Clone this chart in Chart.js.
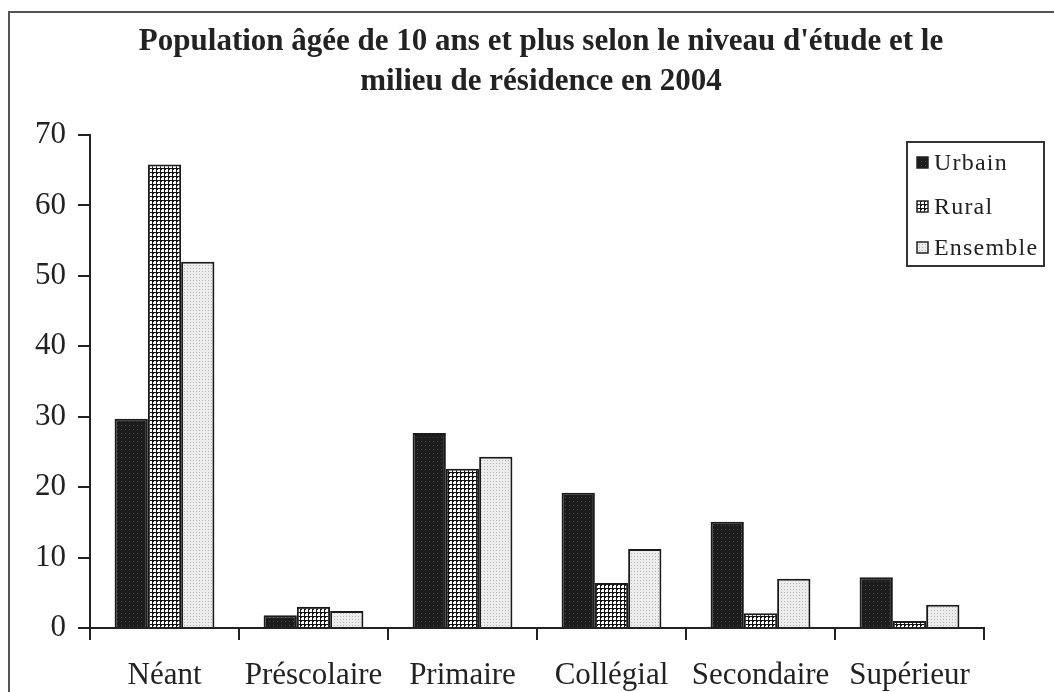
<!DOCTYPE html>
<html>
<head>
<meta charset="utf-8">
<script src="https://cdn.jsdelivr.net/npm/chart.js@4/dist/chart.umd.min.js"></script>
<style>
  html, body { margin: 0; padding: 0; background: #fff; }
  #box { position: relative; width: 1054px; height: 692px; overflow: hidden; }
  #frame { position: absolute; left: 8px; top: 11px; width: 1100px; height: 800px;
           border-left: 2px solid #555; border-top: 2px solid #555; }
  canvas { position: absolute; left: 0; top: 0; }
</style>
</head>
<body>
<div id="box">
  <div id="frame"></div>
  <canvas id="barChart" width="1054" height="692"></canvas>
</div>
<script>
const titleLines = ["Population âgée de 10 ans et plus selon le niveau d'étude et le", "milieu de résidence en 2004"];
const categories = ["Néant", "Préscolaire", "Primaire", "Collégial", "Secondaire", "Supérieur"];
const seriesNames = ["Urbain", "Rural", "Ensemble"];
const urbain = [29.7, 1.8, 27.7, 19.2, 15.1, 7.2];
const rural = [65.8, 3.0, 22.6, 6.4, 2.1, 1.0];
const ensemble = [52.0, 2.4, 24.3, 11.2, 7.0, 3.3];
const yTicks = [0, 10, 20, 30, 40, 50, 60, 70];

const serif = "'Liberation Serif', 'DejaVu Serif', serif";

function makePattern(size, draw) {
  const c = document.createElement('canvas');
  c.width = size;
  c.height = size;
  const g = c.getContext('2d');
  draw(g);
  return g.createPattern(c, 'repeat');
}

// dark fill with faint lighter dots
const darkFill = makePattern(4, g => {
  g.fillStyle = '#1c1c1c';
  g.fillRect(0, 0, 4, 4);
  g.fillStyle = '#4a4a4a';
  g.fillRect(1, 1, 1, 1);
});
// checkered grid
const gridFill = makePattern(4, g => {
  g.fillStyle = '#ffffff';
  g.fillRect(0, 0, 4, 4);
  g.fillStyle = '#151515';
  g.fillRect(0, 0, 4, 1);
  g.fillRect(0, 0, 1, 4);
  g.fillRect(0, 0, 2, 2);
});
// light dotted
const lightFill = makePattern(3, g => {
  g.fillStyle = '#ececec';
  g.fillRect(0, 0, 3, 3);
  g.fillStyle = '#b8b8b8';
  g.fillRect(1, 1, 1, 1);
});

const fills = [darkFill, gridFill, lightFill];
const values = [urbain, rural, ensemble];

const boxLegend = {
  id: 'boxLegend',
  afterDraw(chart) {
    const ctx = chart.ctx;
    ctx.save();
    ctx.fillStyle = '#fff';
    ctx.fillRect(907, 142, 137, 124);
    ctx.strokeStyle = '#333';
    ctx.lineWidth = 2;
    ctx.strokeRect(907, 142, 137, 124);
    ctx.font = "24px " + serif;
    ctx.letterSpacing = '1.2px';
    ctx.textBaseline = 'middle';
    const rows = [163, 207, 248];
    chart.data.datasets.forEach((ds, i) => {
      const y = rows[i];
      ctx.fillStyle = ds.backgroundColor;
      ctx.fillRect(917, y - 6, 11, 11);
      ctx.strokeStyle = '#222';
      ctx.lineWidth = 1.5;
      ctx.strokeRect(917, y - 6, 11, 11);
      ctx.fillStyle = '#222';
      ctx.fillText(ds.label, 934, y + 1);
    });
    ctx.restore();
  }
};

const ctx = document.getElementById('barChart').getContext('2d');
new Chart(ctx, {
  type: 'bar',
  data: {
    labels: categories,
    datasets: seriesNames.map((name, i) => ({
      label: name,
      data: values[i],
      backgroundColor: fills[i],
      borderColor: '#1a1a1a',
      borderWidth: 2,
      borderSkipped: 'bottom',
      barPercentage: 1,
      categoryPercentage: 0.67,
      yAxisID: 'y',
    }))
  },
  options: {
    responsive: false,
    animation: false,
    layout: { padding: { left: 28, right: 0, top: 0, bottom: 0 } },
    plugins: {
      legend: { display: false },
      tooltip: { enabled: false },
      title: {
        display: true,
        text: titleLines,
        color: '#222',
        font: { family: serif, size: 31, weight: 'bold', lineHeight: 1.29 },
        padding: { top: 22, bottom: 33 }
      }
    },
    scales: {
      x: {
        grid: {
          display: true,
          drawOnChartArea: false,
          offset: true,
          color: '#222',
          lineWidth: 2,
          tickLength: 12,
        },
        border: { display: true, color: '#222', width: 2 },
        ticks: {
          color: '#222',
          font: { family: serif, size: 31 },
          padding: 17,
          maxRotation: 0,
        },
        afterFit(scale) { scale.height = 64; }
      },
      y: {
        min: 0,
        max: 70,
        afterBuildTicks(scale) { scale.ticks = yTicks.map(v => ({ value: v })); },
        grid: {
          display: true,
          drawOnChartArea: false,
          color: '#222',
          lineWidth: 2,
          tickLength: 12,
        },
        border: { display: true, color: '#222', width: 2 },
        ticks: {
          color: '#222',
          font: { family: serif, size: 31 },
          padding: 12,
        },
        afterFit(scale) { scale.width = 62; }
      },
      // empty right-hand axis that only reserves the margin
      yRight: {
        position: 'right',
        min: 0,
        max: 70,
        grid: { display: false },
        border: { display: false },
        ticks: { display: false },
        afterFit(scale) { scale.width = 70; }
      }
    }
  },
  plugins: [boxLegend]
});
</script>
</body>
</html>
